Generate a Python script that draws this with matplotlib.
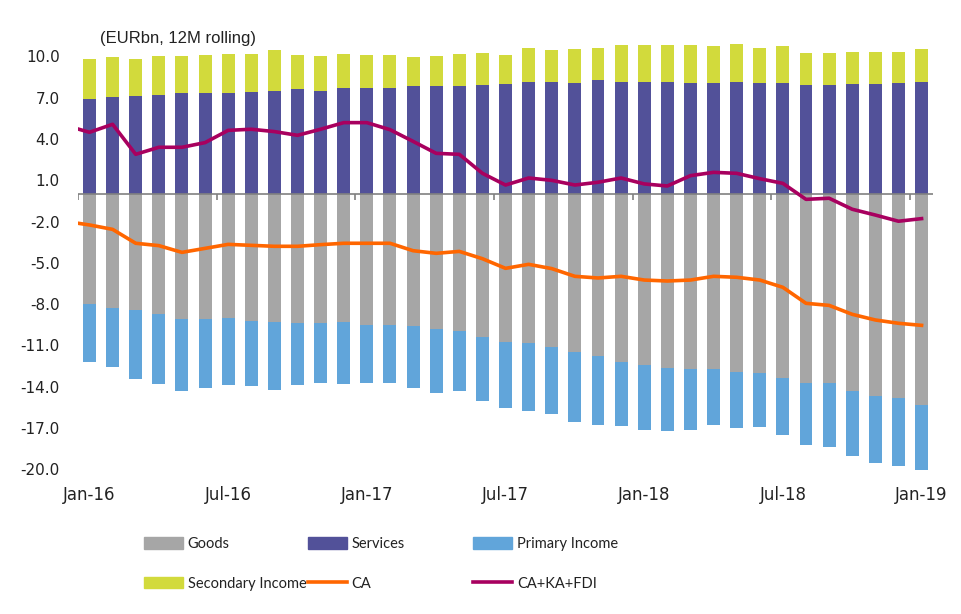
import matplotlib
matplotlib.use("Agg")
import matplotlib.pyplot as plt
import numpy as np
from matplotlib.patches import Patch
from matplotlib.lines import Line2D

months = ["Jan-16", "Feb-16", "Mar-16", "Apr-16", "May-16", "Jun-16", "Jul-16", "Aug-16", "Sep-16",
          "Oct-16", "Nov-16", "Dec-16", "Jan-17", "Feb-17", "Mar-17", "Apr-17", "May-17", "Jun-17",
          "Jul-17", "Aug-17", "Sep-17", "Oct-17", "Nov-17", "Dec-17", "Jan-18", "Feb-18", "Mar-18",
          "Apr-18", "May-18", "Jun-18", "Jul-18", "Aug-18", "Sep-18", "Oct-18", "Nov-18", "Dec-18",
          "Jan-19"]

services = [6.90, 7.04, 7.12, 7.19, 7.33, 7.33, 7.33, 7.41, 7.48, 7.62, 7.48, 7.70, 7.70, 7.70,
            7.84, 7.84, 7.84, 7.92, 7.99, 8.13, 8.13, 8.06, 8.28, 8.13, 8.13, 8.13, 8.06, 8.06,
            8.13, 8.06, 8.06, 7.92, 7.92, 7.99, 7.99, 8.06, 8.13]
secondary = [2.90, 2.91, 2.68, 2.83, 2.69, 2.76, 2.84, 2.76, 2.98, 2.47, 2.54, 2.47, 2.39, 2.39,
             2.11, 2.18, 2.33, 2.32, 2.10, 2.47, 2.33, 2.47, 2.32, 2.69, 2.69, 2.69, 2.76, 2.69,
             2.76, 2.54, 2.69, 2.32, 2.32, 2.32, 2.32, 2.25, 2.40]
goods = [-7.99, -8.28, -8.42, -8.71, -9.08, -9.08, -9.00, -9.22, -9.30, -9.37, -9.37, -9.30,
         -9.51, -9.51, -9.59, -9.80, -9.95, -10.38, -10.75, -10.82, -11.11, -11.47, -11.76,
         -12.20, -12.42, -12.64, -12.71, -12.71, -12.93, -13.00, -13.36, -13.73, -13.73, -14.31,
         -14.67, -14.81, -15.32]
primary = [-4.21, -4.28, -5.01, -5.09, -5.23, -5.01, -4.87, -4.72, -4.93, -4.50, -4.36, -4.50,
           -4.22, -4.22, -4.50, -4.65, -4.36, -4.65, -4.79, -4.94, -4.87, -5.09, -5.02, -4.65,
           -4.72, -4.57, -4.43, -4.07, -4.07, -3.92, -4.14, -4.50, -4.64, -4.72, -4.87, -4.94,
           -4.72]
# lines include the Dec-15 value (clipped at the left edge of the chart)
ca = [-2.00, -2.25, -2.57, -3.58, -3.75, -4.24, -3.95, -3.66, -3.73, -3.80, -3.80, -3.68, -3.58,
      -3.58, -3.58, -4.12, -4.31, -4.17, -4.70, -5.40, -5.11, -5.42, -5.98, -6.10, -5.98, -6.25,
      -6.32, -6.25, -5.98, -6.05, -6.25, -6.78, -7.94, -8.09, -8.74, -9.15, -9.39, -9.54]
ca_ka_fdi = [4.96, 4.48, 5.06, 2.88, 3.39, 3.39, 3.73, 4.62, 4.70, 4.53, 4.26, 4.70, 5.18, 5.18,
             4.67, 3.82, 2.95, 2.88, 1.50, 0.65, 1.16, 0.99, 0.65, 0.85, 1.16, 0.73, 0.58, 1.33,
             1.57, 1.50, 1.11, 0.77, -0.39, -0.31, -1.11, -1.53, -1.98, -1.79]

tick_labels = ["Jan-16", "Jul-16", "Jan-17", "Jul-17", "Jan-18", "Jul-18", "Jan-19"]
y_ticks = [10, 7, 4, 1, -2, -5, -8, -11, -14, -17, -20]

c_goods = "#A6A6A6"
c_serv = "#525199"
c_prim = "#61A5DA"
c_sec = "#D2DA3C"
c_ca = "#FF6600"
c_fdi = "#A8005F"

W, H = 962, 614
fig = plt.figure(figsize=(W / 100, H / 100), dpi=100)
ax = fig.add_axes([0.081, 0.2243, 0.889, 0.7065])

x = np.arange(len(months))
bw = 0.56
ax.bar(x, services, bw, color=c_serv, zorder=2)
ax.bar(x, secondary, bw, bottom=services, color=c_sec, zorder=2)
ax.bar(x, goods, bw, color=c_goods, zorder=2)
ax.bar(x, primary, bw, bottom=goods, color=c_prim, zorder=2)

xl = np.arange(-1, len(months))
ax.plot(xl, ca, color=c_ca, lw=2.6, zorder=4, solid_joinstyle="round")
ax.plot(xl, ca_ka_fdi, color=c_fdi, lw=2.6, zorder=4, solid_joinstyle="round")

ax.set_xlim(-0.5, len(months) - 0.5)
ax.set_ylim(-20.5, 11.0)

# zero axis line with category-group tick marks
ax.axhline(0, color="#808080", lw=1.2, zorder=3)
group_edges = np.arange(-0.5, len(months) - 1, 6)
ax.vlines(group_edges, -0.45, 0, color="#808080", lw=1.2, zorder=3)

for s in ax.spines.values():
    s.set_visible(False)

ax.set_yticks(y_ticks)
ax.set_yticklabels([f"{v:.1f}" for v in y_ticks], fontsize=11, family="DejaVu Sans", color="#222222")
ax.tick_params(axis="y", length=0, pad=13)

ax.set_xticks([months.index(m) for m in tick_labels])
ax.set_xticklabels(tick_labels, fontsize=12, family="DejaVu Sans", color="#222222")
ax.tick_params(axis="x", length=0, pad=7)

fig.text(100 / W, 1 - 38 / H, "(EURbn, 12M rolling)", fontsize=12, family="Liberation Sans",
         va="center", ha="left", color="#222222")

leg_font = {"family": "Lato", "size": 10.5}
columns = [
    ([Patch(color=c_goods), Patch(color=c_sec)], ["Goods", "Secondary Income"], 144),
    ([Patch(color=c_serv), Line2D([], [], color=c_ca, lw=2.6)], ["Services", "CA"], 308),
    ([Patch(color=c_prim), Line2D([], [], color=c_fdi, lw=2.6)], ["Primary Income", "CA+KA+FDI"], 473),
]
for handles, labels, xpix in columns:
    leg = fig.legend(handles, labels, loc="upper left", bbox_to_anchor=(xpix / W, 1 - 537 / H),
                     frameon=False, prop=leg_font, borderpad=0, borderaxespad=0,
                     handlelength=2.7, handleheight=0.8, handletextpad=0.3, labelspacing=1.75)
    for t in leg.get_texts():
        t.set_color("#222222")

fig.savefig("out.png", dpi=100)
